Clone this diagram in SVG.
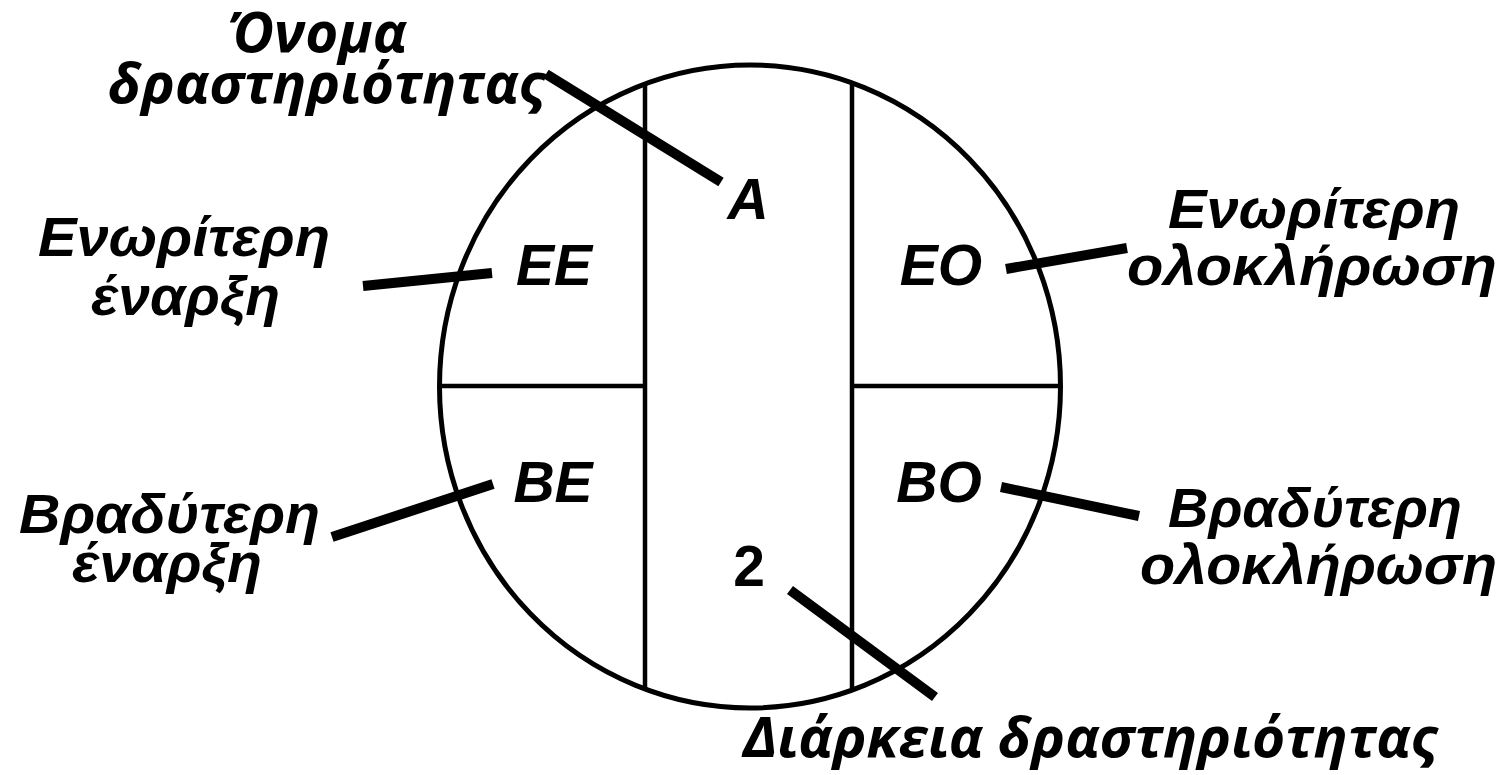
<svg xmlns="http://www.w3.org/2000/svg" width="1508" height="775" viewBox="0 0 1508 775">
  <style>
    .frame { fill: none; stroke: #000; stroke-width: 5; }
    .div { fill: none; stroke: #000; stroke-width: 4.5; }
    .leader { fill: none; stroke: #000; stroke-width: 10; stroke-linecap: butt; }
    .cell { font-family: "Liberation Sans", Arial, sans-serif; font-weight: bold; font-style: italic; font-size: 57px; fill: #000; text-anchor: middle; }
    .num { font-style: normal; }
    .lbl { font-family: "Liberation Sans", Arial, sans-serif; font-weight: bold; font-style: italic; font-size: 56px; fill: #000; }
    .cond { font-family: "Open Sans", "Liberation Sans", sans-serif; font-weight: bold; font-style: italic; font-size: 56px; fill: #000; }
  </style>
  <rect width="1508" height="775" fill="#fff"/>

  <g id="activity-node">
    <ellipse class="frame" cx="750" cy="386.5" rx="310.5" ry="321.5"/>
    <line class="div" x1="645" y1="84" x2="645" y2="690"/>
    <line class="div" x1="852" y1="84" x2="852" y2="690"/>
    <line class="div" x1="440" y1="386" x2="645" y2="386"/>
    <line class="div" x1="852" y1="386" x2="1061" y2="386"/>
    <text class="cell" x="748" y="219">A</text>
    <text class="cell" x="554" y="285">EE</text>
    <text class="cell" x="941" y="285">EO</text>
    <text class="cell" x="553" y="502">BE</text>
    <text class="cell" x="939" y="502">BO</text>
    <text class="cell num" x="749" y="586">2</text>
  </g>

  <g id="label-name">
    <text class="cond" x="228" y="52" textLength="179" lengthAdjust="spacingAndGlyphs">Όνομα</text>
    <text class="cond" x="108" y="103" textLength="437" lengthAdjust="spacingAndGlyphs">δραστηριότητας</text>
  </g>
  <g id="label-early-start">
    <text class="lbl" x="38" y="256" textLength="292" lengthAdjust="spacingAndGlyphs">Ενωρίτερη</text>
    <text class="lbl" x="91" y="315" textLength="189" lengthAdjust="spacingAndGlyphs">έναρξη</text>
  </g>
  <g id="label-late-start">
    <text class="lbl" x="19" y="533" textLength="301" lengthAdjust="spacingAndGlyphs">Βραδύτερη</text>
    <text class="lbl" x="72" y="582" textLength="190" lengthAdjust="spacingAndGlyphs">έναρξη</text>
  </g>
  <g id="label-early-finish">
    <text class="lbl" x="1168" y="228" textLength="292" lengthAdjust="spacingAndGlyphs">Ενωρίτερη</text>
    <text class="lbl" x="1127" y="285" textLength="370" lengthAdjust="spacingAndGlyphs">ολοκλήρωση</text>
  </g>
  <g id="label-late-finish">
    <text class="lbl" x="1168" y="527" textLength="294" lengthAdjust="spacingAndGlyphs">Βραδύτερη</text>
    <text class="lbl" x="1140" y="584" textLength="357" lengthAdjust="spacingAndGlyphs">ολοκλήρωση</text>
  </g>
  <g id="label-duration">
    <text class="cond" x="743" y="757" textLength="694" lengthAdjust="spacingAndGlyphs">Διάρκεια δραστηριότητας</text>
  </g>

  <g id="connectors">
    <line class="leader" x1="546" y1="74" x2="721" y2="182"/>
    <line class="leader" x1="363" y1="286" x2="492" y2="273"/>
    <line class="leader" x1="332" y1="537" x2="493" y2="484"/>
    <line class="leader" x1="1006" y1="269" x2="1127" y2="248"/>
    <line class="leader" x1="1001" y1="487" x2="1139" y2="516"/>
    <line class="leader" x1="790" y1="590" x2="935" y2="697"/>
  </g>
</svg>
